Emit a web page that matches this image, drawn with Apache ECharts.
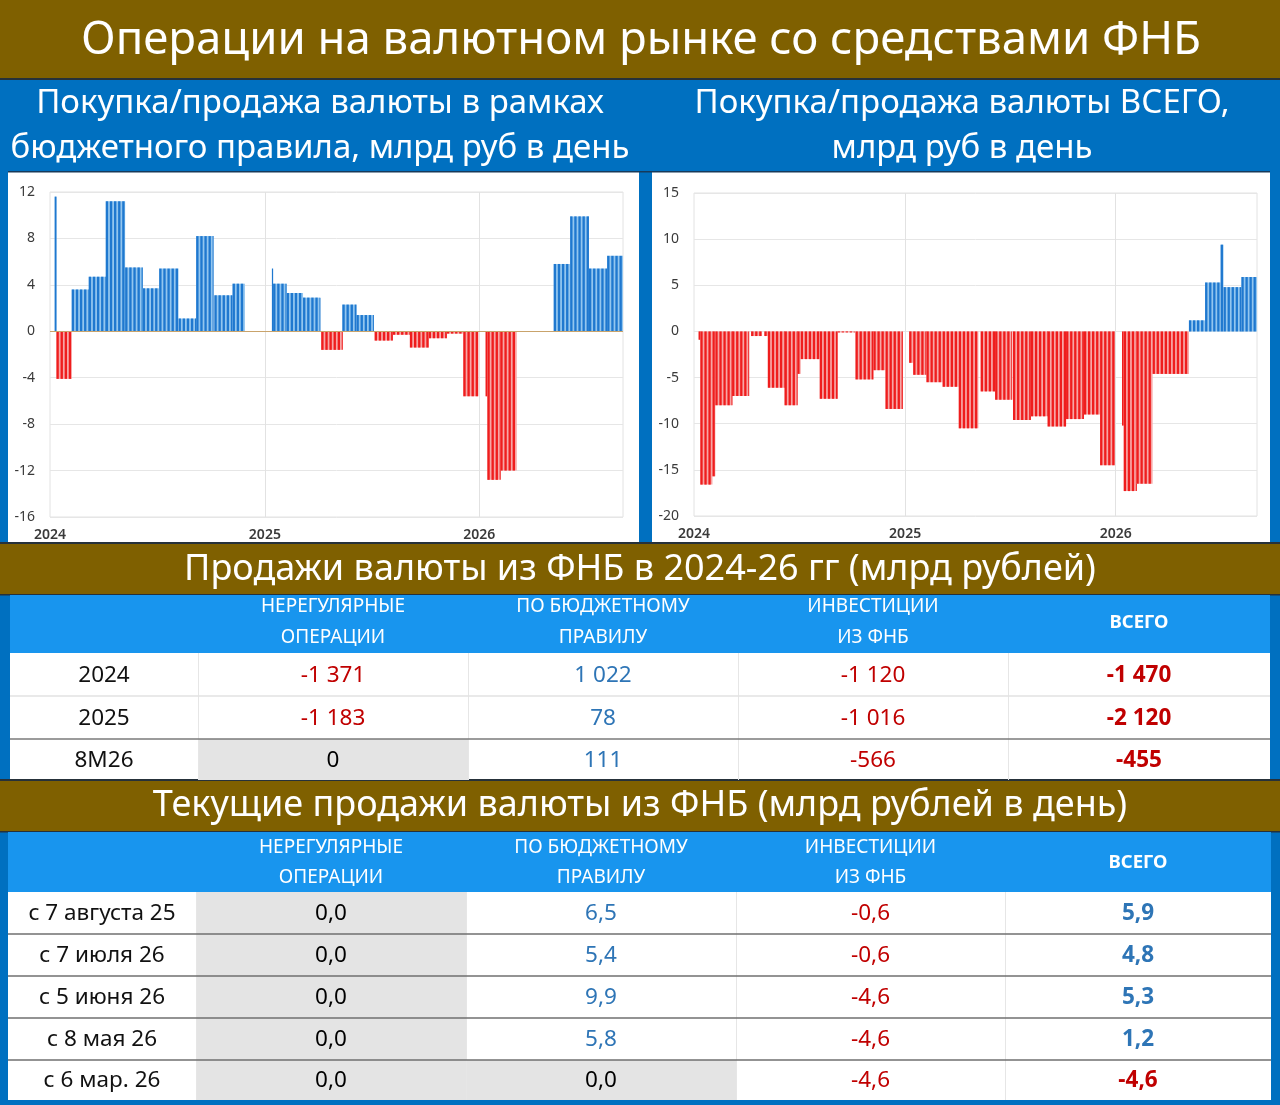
<!DOCTYPE html>
<html>
<head>
<meta charset="utf-8">
<script src="https://cdn.jsdelivr.net/npm/echarts@6.0.0/dist/echarts.min.js"></script>
<style>
  html, body { margin: 0; padding: 0; background: #0070c0; }
  #main { width: 1280px; height: 1105px; }
</style>
</head>
<body>
<div id="main"></div>
<script>
// периоды операций по бюджетному правилу (млрд руб в день)
const ruleFrom = ['2024-01-09','2024-01-12','2024-02-07','2024-03-07','2024-04-05','2024-05-08','2024-06-07','2024-07-05',
  '2024-08-07','2024-09-06','2024-10-07','2024-11-07','2025-01-13','2025-01-15','2025-02-07','2025-03-07','2025-04-07',
  '2025-05-13','2025-06-06','2025-07-07','2025-08-07','2025-09-05','2025-10-07','2025-11-07','2025-12-05','2026-01-12',
  '2026-01-15','2026-02-06','2026-05-08','2026-06-05','2026-07-07','2026-08-07'];
const ruleTo = ['2024-01-11','2024-02-06','2024-03-06','2024-04-04','2024-05-07','2024-06-06','2024-07-04','2024-08-06',
  '2024-09-05','2024-10-04','2024-11-06','2024-11-27','2025-01-14','2025-02-06','2025-03-06','2025-04-04','2025-05-12',
  '2025-06-05','2025-07-04','2025-08-06','2025-09-04','2025-10-06','2025-11-06','2025-12-04','2025-12-30','2026-01-14',
  '2026-02-05','2026-03-05','2026-06-04','2026-07-06','2026-08-06','2026-09-02'];
const ruleValues = [11.6, -4.1, 3.6, 4.7, 11.2, 5.5, 3.7, 5.4, 1.1, 8.2, 3.1, 4.1, 5.4, 4.1, 3.3, 2.9, -1.6,
  2.3, 1.4, -0.8, -0.3, -1.4, -0.6, -0.2, -5.6, -5.6, -12.8, -12.0, 5.8, 9.9, 5.4, 6.5];

// периоды операций всего (млрд руб в день)
const totalFrom = ['2024-01-09','2024-01-12','2024-02-02','2024-02-07','2024-03-07','2024-04-09','2024-05-02','2024-05-08',
  '2024-06-06','2024-06-28','2024-07-04','2024-08-06','2024-09-06','2024-10-07','2024-11-07','2024-11-28','2025-01-08',
  '2025-01-15','2025-02-07','2025-03-07','2025-04-04','2025-05-12','2025-06-06','2025-07-07','2025-08-07','2025-09-05',
  '2025-10-07','2025-11-07','2025-12-05','2026-01-12','2026-01-15','2026-02-06','2026-03-06','2026-05-08','2026-06-05',
  '2026-07-02','2026-07-07','2026-08-07'];
const totalTo = ['2024-01-11','2024-02-01','2024-02-06','2024-03-06','2024-04-04','2024-04-27','2024-05-07','2024-06-05',
  '2024-06-27','2024-07-03','2024-08-05','2024-09-05','2024-10-04','2024-11-06','2024-11-27','2024-12-27','2025-01-14',
  '2025-02-06','2025-03-06','2025-04-03','2025-05-07','2025-06-05','2025-07-04','2025-08-06','2025-09-04','2025-10-06',
  '2025-11-06','2025-12-04','2025-12-30','2026-01-14','2026-02-05','2026-03-05','2026-05-07','2026-06-04','2026-07-01',
  '2026-07-06','2026-08-06','2026-09-03'];
const totalValues = [-0.9, -16.6, -15.7, -8.0, -7.0, -0.5, -0.5, -6.1, -8.0, -4.6, -3.0, -7.3, -0.1, -5.2, -4.2, -8.4, -3.4,
  -4.7, -5.5, -6.0, -10.5, -6.5, -7.4, -9.6, -9.2, -10.3, -9.5, -9.0, -14.5, -10.2, -17.3, -16.5, -4.6, 1.2, 5.3,
  9.4, 4.8, 5.9];

const yearTicks = ['2024-01-01', '2025-01-01', '2026-01-01'];

// таблица 1: продажи по годам (млрд рублей)
const yearRows = ['2024', '2025', '8M26'];
const irregularByYear = [-1371, -1183, 0];
const ruleByYear = [1022, 78, 111];
const investByYear = [-1120, -1016, -566];
const totalByYear = [-1470, -2120, -455];

// таблица 2: текущие продажи (млрд рублей в день)
const currentRows = ['с 7 августа 25', 'с 7 июля 26', 'с 5 июня 26', 'с 8 мая 26', 'с 6 мар. 26'];
const irregularNow = [0, 0, 0, 0, 0];
const ruleNow = [6.5, 5.4, 9.9, 5.8, 0];
const investNow = [-0.6, -0.6, -4.6, -4.6, -4.6];
const totalNow = [5.9, 4.8, 5.3, 1.2, -4.6];

const headTop = ['НЕРЕГУЛЯРНЫЕ', 'ПО БЮДЖЕТНОМУ', 'ИНВЕСТИЦИИ'];
const headBottom = ['ОПЕРАЦИИ', 'ПРАВИЛУ', 'ИЗ ФНБ'];

const DAY = 24 * 3600 * 1000;
const FONT = '"Noto Sans", "Open Sans", sans-serif';
const c = {
  olive: '#7f6000', frame: '#0070c0', head: '#1895ee', line: '#26313a',
  red: '#c00000', blue: '#2e75b6', gray: '#e4e4e4',
  barBlue: '#1f78cf', barBlueLight: '#93c6ef', barRed: '#ef1d1d', barRedLight: '#f7a6a6'
};

function t(s) {
  const p = s.split('-');
  return Date.UTC(+p[0], +p[1] - 1, +p[2]);
}

function periods(from, to, values) {
  return from.map((f, i) => [t(f), t(to[i]) + DAY, values[i]]);
}

// каждый период рисуем полосками (по неделям), как в исходнике
function renderPeriod(params, api) {
  const from = api.value(0), to = api.value(1), v = api.value(2);
  const p0 = api.coord([from, 0]);
  const p1 = api.coord([to, v]);
  const top = Math.min(p0[1], p1[1]);
  const h = Math.max(Math.abs(p1[1] - p0[1]), 1);
  const pos = v >= 0;
  const children = [{
    type: 'rect',
    shape: { x: p0[0], y: top, width: p1[0] - p0[0], height: h },
    style: { fill: pos ? c.barBlueLight : c.barRedLight }
  }];
  for (let d = from; d < to; d += 7 * DAY) {
    const a = api.coord([d, 0])[0];
    const b = api.coord([Math.min(d + 4 * DAY, to), 0])[0];
    children.push({
      type: 'rect',
      shape: { x: a, y: top, width: Math.max(b - a, 1), height: h },
      style: { fill: pos ? c.barBlue : c.barRed }
    });
  }
  return { type: 'group', children: children };
}

const els = [];
function box(x, y, w, h, fill, z) {
  els.push({ type: 'rect', shape: { x: x, y: y, width: w, height: h }, style: { fill: fill }, z: z === undefined ? -1 : z, silent: true });
}
function label(x, y, text, size, fill, weight) {
  els.push({
    type: 'text', x: x, y: y, z: 5, silent: true,
    style: { text: text, fill: fill, fontSize: size, fontFamily: FONT, fontWeight: weight || 'normal', align: 'center', verticalAlign: 'middle' }
  });
}

function fmtInt(v) {
  const s = Math.abs(v).toString().replace(/\B(?=(\d{3})+(?!\d))/g, ' ');
  return (v < 0 ? '-' : '') + s;
}
function fmtDec(v) {
  return v.toFixed(1).replace('.', ',');
}
function tone(v) {
  return v < 0 ? c.red : (v > 0 ? c.blue : '#000');
}

// шапка и полосы
box(0, 0, 1280, 78, c.olive);
box(0, 78, 1280, 2, c.line);
label(641, 41, 'Операции на валютном рынке со средствами ФНБ', 45.5, '#fff');
label(320, 104, 'Покупка/продажа валюты в рамках', 33, '#fff');
label(320, 149, 'бюджетного правила, млрд руб в день', 33, '#fff');
label(962, 104, 'Покупка/продажа валюты ВСЕГО,', 33, '#fff');
label(962, 149, 'млрд руб в день', 33, '#fff');

// панели с графиками
box(8, 172, 631, 371, '#fff', -2);
box(652, 172, 618, 371, '#fff', -2);
box(8, 171, 1262, 1.5, '#173a5a', -1);

// полоса и таблица 1
box(0, 543, 1280, 52, c.olive);
box(0, 542, 1280, 2, c.line);
box(0, 594, 1280, 1.5, c.line);
label(640, 570, 'Продажи валюты из ФНБ в 2024-26 гг (млрд рублей)', 36, '#fff');

function table(cols, headY, rowY, rows, cols4, fmt, headLines, strong) {
  const left = cols[0], right = cols[cols.length - 1];
  box(left, headY[0], right - left, headY[1] - headY[0], c.head);
  for (let j = 0; j < 3; j++) {
    const cx = (cols[j + 1] + cols[j + 2]) / 2;
    label(cx, headLines[0], headTop[j], 19, '#fff');
    label(cx, headLines[1], headBottom[j], 19, '#fff');
  }
  label((cols[4] + cols[5]) / 2, (headLines[0] + headLines[1]) / 2, 'ВСЕГО', 18.5, '#fff', 'bold');
  box(left, rowY[0], right - left, rowY[rowY.length - 1] - rowY[0], '#fff');
  rows.forEach((name, i) => {
    const y0 = rowY[i], y1 = rowY[i + 1], cy = (y0 + y1) / 2 + 1;
    label((cols[0] + cols[1]) / 2, cy, name, 22.5, '#111');
    cols4.forEach((arr, j) => {
      const v = arr[i];
      const isTotal = j === 3;
      if (!isTotal && v === 0) box(cols[j + 1], y0, cols[j + 2] - cols[j + 1], y1 - y0, c.gray, 0);
      label((cols[j + 1] + cols[j + 2]) / 2, cy, fmt(v), 22.5, tone(v), isTotal ? 'bold' : 'normal');
    });
    if (i > 0) box(left, y0 - 0.75, right - left, 1.5, strong(i), 1);
  });
  for (let j = 1; j < 5; j++) box(cols[j], rowY[0], 1, rowY[rowY.length - 1] - rowY[0], '#e6e6e6', 0);
}

table([10, 198, 468, 738, 1008, 1270], [595, 653], [653, 696, 739, 780], yearRows,
  [irregularByYear, ruleByYear, investByYear, totalByYear], fmtInt, [607, 638],
  i => (i === 2 ? '#7a7a7a' : '#e2e2e2'));

// полоса и таблица 2
box(0, 780, 1280, 52, c.olive);
box(0, 779, 1280, 2, c.line);
box(0, 831, 1280, 1.5, c.line);
label(640, 806, 'Текущие продажи валюты из ФНБ (млрд рублей в день)', 36, '#fff');

table([8, 196, 466, 736, 1005, 1271], [832, 892], [892, 934, 976, 1018, 1060, 1100], currentRows,
  [irregularNow, ruleNow, investNow, totalNow], fmtDec, [848, 878],
  () => '#6f6f6f');

// ось дат: числовая шкала в миллисекундах, подписи только на границах лет
function xAxisFor(grid) {
  return {
    type: 'value', gridIndex: grid,
    min: t('2024-01-01'), max: t('2026-09-03'),
    axisLine: { show: false }, axisTick: { show: false }, splitLine: { show: false },
    axisLabel: {
      customValues: yearTicks.map(t),
      formatter: v => String(new Date(v).getUTCFullYear()),
      color: '#3a3a3a', fontSize: 14, fontWeight: 600, fontFamily: FONT, margin: 11
    }
  };
}
function yAxisFor(grid, min, max, step) {
  return {
    type: 'value', gridIndex: grid, min: min, max: max, interval: step,
    axisLine: { show: false }, axisTick: { show: false },
    axisLabel: { color: '#3a3a3a', fontSize: 14, fontFamily: FONT, margin: 15 },
    splitLine: { lineStyle: { color: '#e6e6e6', width: 1 } }
  };
}
function yearLines(extra) {
  return {
    silent: true, symbol: 'none', label: { show: false },
    lineStyle: { color: '#e2e2e2', type: 'solid', width: 1 },
    data: yearTicks.slice(1).map(s => ({ xAxis: t(s) })).concat(extra)
  };
}

const chart = echarts.init(document.getElementById('main'));
chart.setOption({
  backgroundColor: c.frame,
  animation: false,
  graphic: { elements: els },
  grid: [
    { left: 50, top: 192, width: 573, height: 325, show: true, backgroundColor: '#fff', borderColor: '#e2e2e2', borderWidth: 1 },
    { left: 694, top: 193, width: 563, height: 323, show: true, backgroundColor: '#fff', borderColor: '#e2e2e2', borderWidth: 1 }
  ],
  xAxis: [xAxisFor(0), xAxisFor(1)],
  yAxis: [yAxisFor(0, -16, 12, 4), yAxisFor(1, -20, 15, 5)],
  series: [
    {
      type: 'custom', xAxisIndex: 0, yAxisIndex: 0, clip: true,
      renderItem: renderPeriod, encode: { x: [0, 1], y: 2 },
      data: periods(ruleFrom, ruleTo, ruleValues),
      markLine: yearLines([{ yAxis: 0, lineStyle: { color: '#c9a36b', width: 1.2 } }])
    },
    {
      type: 'custom', xAxisIndex: 1, yAxisIndex: 1, clip: true,
      renderItem: renderPeriod, encode: { x: [0, 1], y: 2 },
      data: periods(totalFrom, totalTo, totalValues),
      markLine: yearLines([])
    }
  ]
});
</script>
</body>
</html>
